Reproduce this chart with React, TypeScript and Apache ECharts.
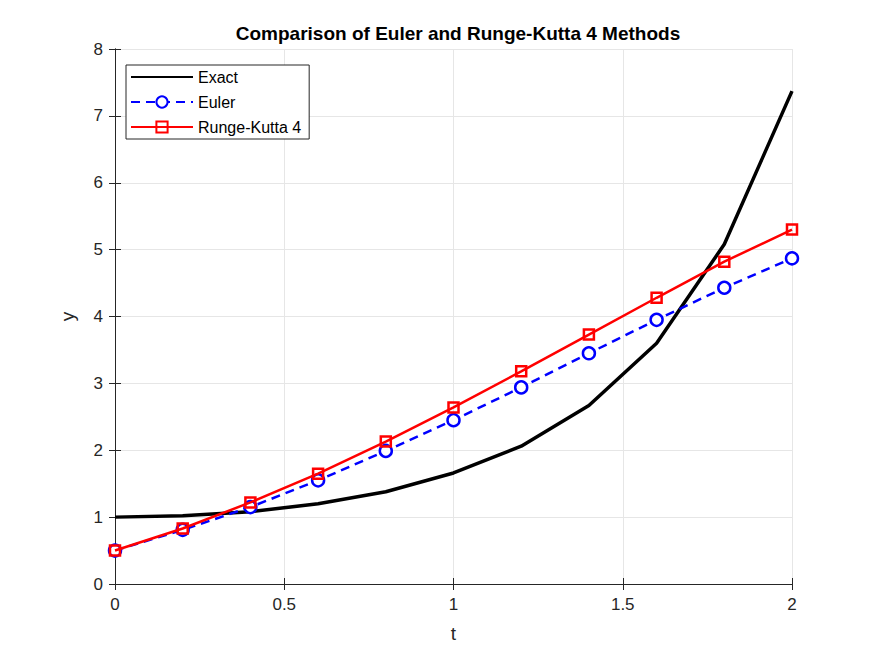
import React, { useEffect, useRef } from 'react';
import * as echarts from 'echarts';

const tValues = [0, 0.2, 0.4, 0.6, 0.8, 1.0, 1.2, 1.4, 1.6, 1.8, 2.0];
const exactValues = [1.0, 1.02, 1.08, 1.2, 1.38, 1.66, 2.06, 2.67, 3.6, 5.08, 7.37];
const eulerValues = [0.5, 0.81, 1.15, 1.55, 1.99, 2.45, 2.94, 3.45, 3.95, 4.43, 4.87];
const rk4Values = [0.5, 0.83, 1.22, 1.65, 2.13, 2.64, 3.18, 3.73, 4.28, 4.82, 5.3];

const font = 'Liberation Sans, Arial, sans-serif';
const pair = (ys: number[]) => tValues.map((t, i) => [t, ys[i]]);

const App: React.FC = () => {
  const chartRef = useRef<HTMLDivElement>(null);

  useEffect(() => {
    const chart = echarts.init(chartRef.current!, undefined, { renderer: 'svg' });
    const axisBase = {
      axisLine: { show: true, lineStyle: { color: '#262626', width: 1 } },
      axisTick: { show: true, inside: true, length: 6, lineStyle: { color: '#262626' } },
    };
    const option = {
      animation: false,
      title: {
        text: 'Comparison of Euler and Runge-Kutta 4 Methods',
        left: 453,
        textAlign: 'center',
        top: 19,
        textStyle: { fontFamily: font, fontWeight: 'bold', fontSize: 19, color: '#000' },
      },
      grid: { left: 115, right: 83, top: 49, bottom: 72 },
      legend: {
        orient: 'vertical',
        left: 126,
        top: 65,
        itemWidth: 62,
        itemHeight: 14,
        itemGap: 9,
        padding: [4, 8, 4, 4],
        backgroundColor: '#fff',
        borderColor: '#262626',
        borderWidth: 1,
        borderRadius: 0,
        textStyle: { fontFamily: font, fontSize: 16, color: '#000' },
        data: [
          { name: 'Exact', itemStyle: { opacity: 0 } },
          'Euler',
          'Runge-Kutta 4',
        ],
      },
      xAxis: [
        {
          ...axisBase,
          type: 'value', min: 0, max: 2, interval: 0.5, position: 'bottom',
          name: 't', nameLocation: 'middle', nameGap: 40,
          nameTextStyle: { fontFamily: font, fontSize: 19, color: '#262626' },
          axisLabel: { fontFamily: font, fontSize: 17, color: '#262626', margin: 12 },
          splitLine: { show: true, lineStyle: { color: '#e6e6e6' } },
        },
        {
          ...axisBase,
          type: 'value', min: 0, max: 2, interval: 0.5, position: 'top',
          axisLabel: { show: false }, splitLine: { show: false },
        },
      ],
      yAxis: [
        {
          ...axisBase,
          type: 'value', min: 0, max: 8, interval: 1, position: 'left',
          name: 'y', nameLocation: 'middle', nameGap: 38,
          nameTextStyle: { fontFamily: font, fontSize: 19, color: '#262626' },
          axisLabel: { fontFamily: font, fontSize: 17, color: '#262626', margin: 12 },
          splitLine: { show: true, lineStyle: { color: '#e6e6e6' } },
        },
        {
          ...axisBase,
          type: 'value', min: 0, max: 8, interval: 1, position: 'right',
          axisLabel: { show: false }, splitLine: { show: false },
        },
      ],
      series: [
        {
          name: 'Exact', type: 'line', data: pair(exactValues),
          showSymbol: false,
          lineStyle: { color: '#000', width: 3.5 }, itemStyle: { color: '#000' },
          z: 3,
        },
        {
          name: 'Euler', type: 'line', data: pair(eulerValues),
          symbol: 'circle', symbolSize: 12,
          lineStyle: { color: '#0000ff', width: 2.5, type: [9, 6] },
          itemStyle: { color: '#fff', borderColor: '#0000ff', borderWidth: 2.5 },
          z: 4,
        },
        {
          name: 'Runge-Kutta 4', type: 'line', data: pair(rk4Values),
          symbol: 'rect', symbolSize: 10,
          lineStyle: { color: '#ff0000', width: 2.5 },
          itemStyle: { color: 'rgba(255,255,255,0)', borderColor: '#ff0000', borderWidth: 2.5 },
          z: 5,
        },
      ],
    };
    chart.setOption(option);
    return () => {
      chart.dispose();
    };
  }, []);

  return <div ref={chartRef} style={{ width: 875, height: 656, margin: -8, background: '#fff' }} />;
};

export default App;
